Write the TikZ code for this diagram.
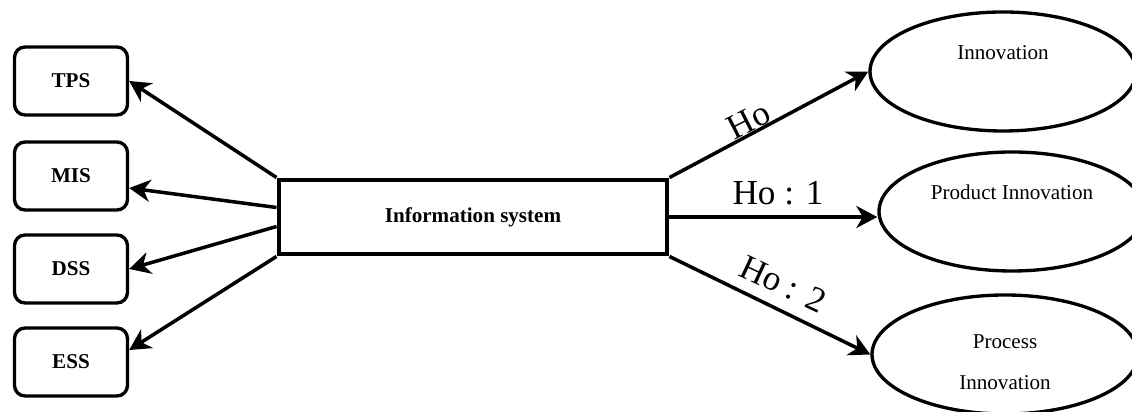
\documentclass[tikz,border=0pt]{standalone}
\usepackage{fontspec}
\setmainfont{Liberation Serif}
\usetikzlibrary{
    positioning,
    shapes.geometric,
    arrows.meta
}

\begin{document}
\begin{tikzpicture}[
    % System type boxes
    sysbox/.style={
        rectangle,
        draw=black,
        rounded corners=6pt,
        minimum width=2.26cm,
        minimum height=1.36cm,
        font=\fontsize{12}{14}\selectfont\bfseries,
        line width=1.9pt
    },
    % Central block
    corebox/.style={
        rectangle,
        draw=black,
        minimum width=7.76cm,
        minimum height=1.48cm,
        font=\fontsize{12}{14}\selectfont\bfseries,
        line width=2.8pt
    },
    % Outcome ellipses
    outcome/.style={
        ellipse,
        draw=black,
        minimum width=5.32cm,
        minimum height=2.38cm,
        line width=1.9pt
    },
    % Ellipse text
    outtext/.style={
        font=\fontsize{12}{23}\selectfont,
        align=center,
        yshift=#1
    },
    % Arrow style
    arrow/.style={
        -{Stealth[length=0.42cm, width=0.44cm, inset=0.13cm]},
        line width=2pt
    },
    % Hypothesis labels
    hyplabel/.style={
        font=\fontsize{20}{24}\selectfont,
        inner sep=1pt
    }
]

\useasboundingbox (0,0) rectangle (22.64,8.24);

% ============================================
% SYSTEM TYPES
% ============================================

\node[sysbox] (tps) at (1.42, 6.62) {TPS};
\node[sysbox] (mis) at (1.42, 4.72) {MIS};
\node[sysbox] (dss) at (1.42, 2.86) {DSS};
\node[sysbox] (ess) at (1.42, 1.0) {ESS};

% ============================================
% INFORMATION SYSTEM
% ============================================

\node[corebox] (info) at (9.46, 3.9) {Information system};

\draw[arrow] (info.north west) -- (tps.east);
\draw[arrow] ([yshift=0.19cm]info.west) -- ([yshift=-0.24cm]mis.east);
\draw[arrow] ([yshift=-0.19cm]info.west) -- (dss.east);
\draw[arrow] (info.south west) -- ([yshift=0.24cm]ess.east);

% ============================================
% INNOVATION OUTCOMES
% ============================================

\node[outcome, label={[outtext=0.37cm]center:Innovation}] (inno) at (20.06, 6.81) {};
\node[outcome, label={[outtext=0.39cm]center:Product Innovation}] (prod) at (20.24, 4.01) {};
\node[outcome, label={[outtext=-0.15cm]center:Process\\Innovation}] (proc) at (20.1, 1.15) {};

\draw[arrow] (info.north east) -- (inno.west);
\draw[arrow] (info.east) -- (info.east -| prod.west);
\draw[arrow] (info.south east) -- (proc.west);

% Hypotheses
\node[hyplabel, rotate=27] (h0) at (14.97, 5.83) {Ho};
\node[hyplabel] (h1) at (15.56, 4.38) {Ho : 1};
\node[hyplabel, rotate=-25] (h2) at (15.66, 2.56) {Ho : 2};

\end{tikzpicture}
\end{document}
